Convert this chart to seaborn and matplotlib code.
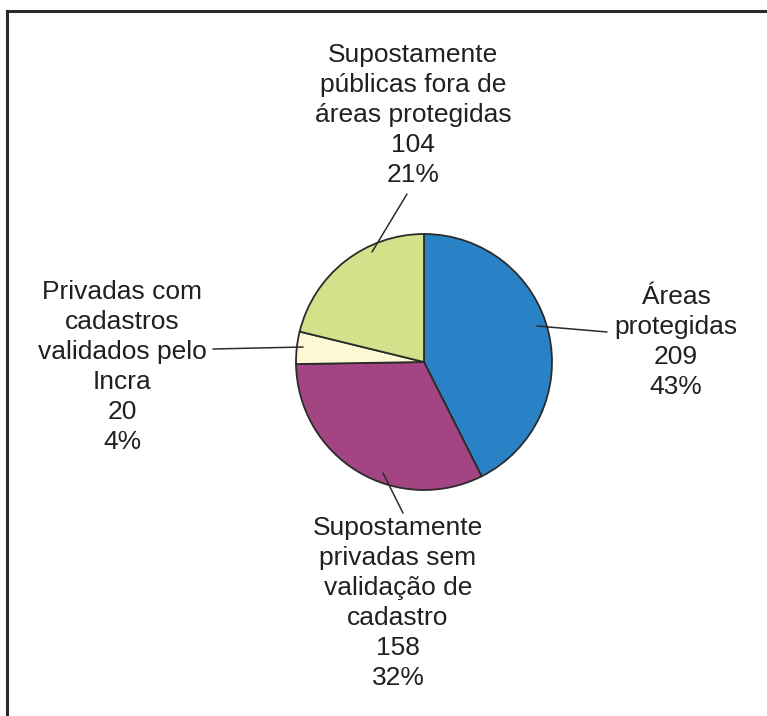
import matplotlib
matplotlib.use("Agg")
import matplotlib.pyplot as plt
import seaborn as sns

# ---- data ----
labels = [
    "Áreas\nprotegidas",
    "Supostamente\nprivadas sem\nvalidação de\ncadastro",
    "Privadas com\ncadastros\nvalidados pelo\nIncra",
    "Supostamente\npúblicas fora de\náreas protegidas",
]
values = [209, 158, 20, 104]
percents = [43, 32, 4, 21]
colors = ["#2a82c6", "#a44583", "#fef9d4", "#d3e28a"]

sns.set_theme(style="white")
plt.rcParams["font.family"] = ["Liberation Sans", "DejaVu Sans"]

W, H = 767, 716
fig = plt.figure(figsize=(W / 100, H / 100), dpi=100)
ax = fig.add_axes([0, 0, 1, 1])

def P(x, y):
    return (x, H - y)

cx, cy = P(424, 362)
wedges, _ = ax.pie(values, colors=colors, startangle=90, counterclock=False,
                   center=(cx, cy), radius=128, frame=True,
                   wedgeprops=dict(edgecolor="#2b2b2b", linewidth=1.3))
ax.set_xlim(0, W)
ax.set_ylim(0, H)
ax.set_axis_off()

txtc = "#231f20"
# label layout: text centre, leader line start (on slice), leader end (near text)
layout = [
    ((676, 342), (537, 326), (607, 332)),
    ((398, 603), (383, 473), (403, 513)),
    ((122, 367), (303, 347), (213, 349)),
    ((413, 115), (372, 252), (407, 194)),
]
for lab, v, p, (tpos, s, e) in zip(labels, values, percents, layout):
    ax.text(*P(*tpos), f"{lab}\n{v}\n{p}%", ha="center", va="center",
            fontsize=19, color=txtc, linespacing=1.32)
    ax.plot([P(*s)[0], P(*e)[0]], [P(*s)[1], P(*e)[1]], color="#2b2b2b", lw=1.1)

# frame (top and left)
ax.plot([7, W], [H - 11, H - 11], color="#2a2a2a", lw=2.2, solid_capstyle="projecting")
ax.plot([7, 7], [H - 11, 0], color="#2a2a2a", lw=2.2, solid_capstyle="projecting")

fig.savefig("out.png", dpi=100, facecolor="white")
